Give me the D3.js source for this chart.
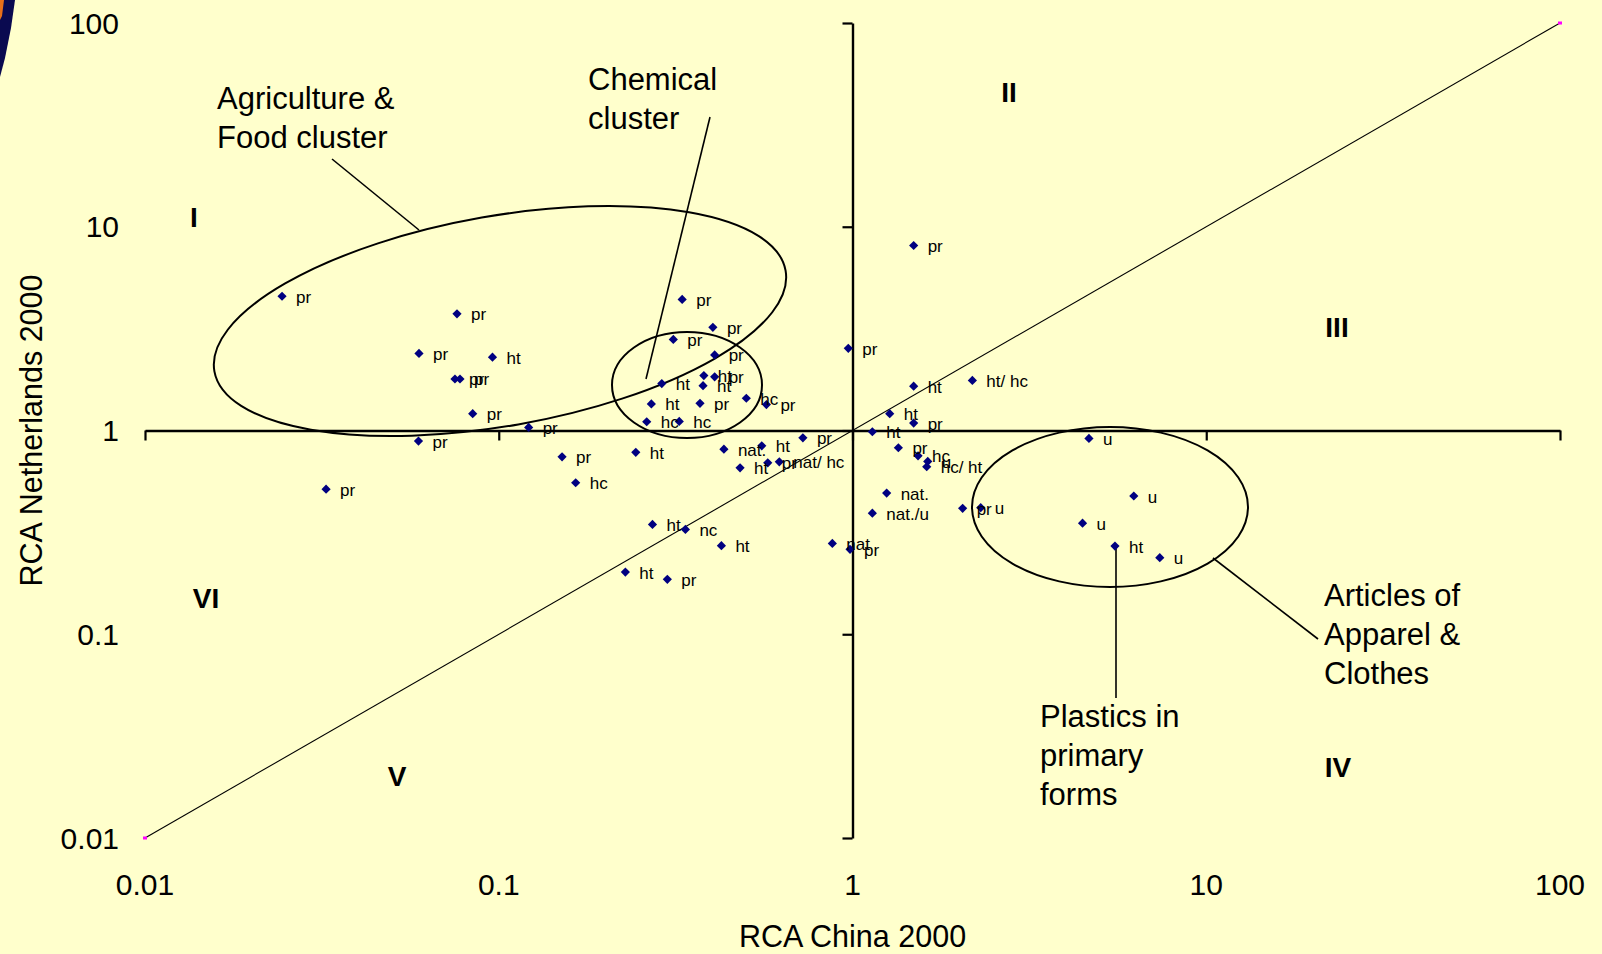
<!DOCTYPE html>
<html>
<head>
<meta charset="utf-8">
<script src="https://cdn.jsdelivr.net/npm/d3@7"></script>
<style>
  html, body { margin: 0; padding: 0; background: #FFFFCC; overflow: hidden; }
  svg { display: block; }
  text { font-family: "Liberation Sans", Arial, sans-serif; fill: #000; }
</style>
</head>
<body>
<svg id="chart" width="1602" height="954"></svg>
<script>
// ---------------- DATA ----------------
const rcaChina = [
  0.0244, 0.0762, 0.0595, 0.0960, 0.0752, 0.0777, 0.0844, 0.0593, 0.1215, 0.151,
  0.165, 0.0325, 0.330, 0.403, 0.3115, 0.4077, 0.289, 0.380, 0.4077, 0.378,
  0.270, 0.3706, 0.501, 0.571, 0.262, 0.3238, 0.973, 1.138, 0.244, 0.433,
  0.554, 0.724, 0.481, 0.576, 0.621, 0.272, 0.337, 0.426, 0.228, 0.2996,
  0.877, 0.984, 1.138, 1.489, 1.489, 2.182, 1.274, 1.489, 4.66, 1.348,
  1.532, 1.632, 1.621, 1.249, 2.048, 2.304, 6.24, 4.47, 5.52, 7.39
];
const rcaNetherlands = [
  4.56, 3.74, 2.39, 2.29, 1.79, 1.79, 1.21, 0.887, 1.035, 0.743,
  0.554, 0.515, 4.40, 3.21, 2.80, 2.35, 1.70, 1.86, 1.835, 1.66,
  1.35, 1.36, 1.44, 1.34, 1.104, 1.108, 2.53, 0.986, 0.781, 0.810,
  0.841, 0.921, 0.656, 0.694, 0.702, 0.346, 0.327, 0.272, 0.202, 0.186,
  0.279, 0.261, 0.393, 8.09, 1.65, 1.76, 1.21, 1.087, 0.914, 0.823,
  0.751, 0.705, 0.664, 0.493, 0.415, 0.418, 0.477, 0.351, 0.271, 0.2375
];
const productLabels = [
  "pr", "pr", "pr", "ht", "pr", "pr", "pr", "pr", "pr", "pr",
  "hc", "pr", "pr", "pr", "pr", "pr", "ht", "ht", "pr", "ht",
  "ht", "pr", "hc", "pr", "hc", "hc", "pr", "ht", "ht", "nat.",
  "ht", "pr", "ht", "pr", "nat/ hc", "ht", "nc", "ht", "ht", "pr",
  "nat", "pr", "nat./u", "pr", "ht", "ht/ hc", "ht", "pr", "u", "pr",
  "hc", "u", "hc/ ht", "nat.", "pr", "u", "u", "u", "ht", "u"
];
const tickValues = [0.01, 0.1, 1, 10, 100];
const tickLabels = ["0.01", "0.1", "1", "10", "100"];
const diagonal = [0.01, 100];
const quadrantLabels = ["I", "II", "III", "IV", "V", "VI"];

// ---------------- LAYOUT ----------------
const svg = d3.select("#chart");
const W = 1602, H = 954;
const x = d3.scaleLog().domain([0.01, 100]).range([145, 1560]);
const y = d3.scaleLog().domain([0.01, 100]).range([838, 23]);

svg.append("rect").attr("width", W).attr("height", H).attr("fill", "#FFFFCC");

// slide decoration top-left
svg.append("path").attr("d", "M0,0 L15,0 L11,28 L5,58 L0,77 Z").attr("fill", "#0A0A50");
svg.append("path").attr("d", "M0,0 L4,0 L2,16 L0,20 Z").attr("fill", "#E8701A");

// diagonal reference line
svg.append("line")
  .attr("x1", x(diagonal[0])).attr("y1", y(diagonal[0]))
  .attr("x2", x(diagonal[1])).attr("y2", y(diagonal[1]))
  .attr("stroke", "#000").attr("stroke-width", 1.1);
svg.selectAll("rect.endpt").data(diagonal).enter().append("rect")
  .attr("class", "endpt")
  .attr("x", d => x(d) - 2).attr("y", d => y(d) - 1.5)
  .attr("width", 4).attr("height", 3).attr("fill", "#FF00FF");

// axes crossing at (1,1)
const xAxis = d3.axisBottom(x).tickValues(tickValues).tickSize(10).tickSizeOuter(0).tickFormat("");
const yAxis = d3.axisLeft(y).tickValues(tickValues).tickSize(10).tickSizeOuter(0).tickFormat("");
const gx = svg.append("g").attr("transform", `translate(0,${y(1)})`).call(xAxis);
const gy = svg.append("g").attr("transform", `translate(${x(1)},0)`).call(yAxis);
[gx, gy].forEach(g => {
  g.select(".domain").attr("stroke", "#000").attr("stroke-width", 2.4);
  g.selectAll(".tick line").attr("stroke", "#000").attr("stroke-width", 2.2);
});

// tick labels at the chart edges
svg.selectAll("text.xt").data(tickValues).enter().append("text")
  .attr("class", "xt")
  .attr("x", d => x(d)).attr("y", 895)
  .attr("text-anchor", "middle").attr("font-size", 30)
  .text((d, i) => tickLabels[i]);
svg.selectAll("text.yt").data(tickValues).enter().append("text")
  .attr("class", "yt")
  .attr("x", 119).attr("y", d => y(d) + 10.5)
  .attr("text-anchor", "end").attr("font-size", 30)
  .text((d, i) => tickLabels[i]);

// axis titles
svg.append("text").attr("x", x(1)).attr("y", 947)
  .attr("text-anchor", "middle").attr("font-size", 30.5).text("RCA China 2000");
svg.append("text").attr("transform", `translate(42,${y(1)}) rotate(-90)`)
  .attr("text-anchor", "middle").attr("font-size", 30.5).text("RCA Netherlands 2000");

// quadrant numerals
const quadPos = [[194, 227], [1009, 102], [1337, 337], [1338, 777], [397, 786], [206, 608]];
svg.selectAll("text.quad").data(quadrantLabels).enter().append("text")
  .attr("class", "quad")
  .attr("x", (d, i) => quadPos[i][0]).attr("y", (d, i) => quadPos[i][1])
  .attr("text-anchor", "middle").attr("font-size", 28).attr("font-weight", "bold")
  .text(d => d);

// cluster ellipses and leader lines
const ann = svg.append("g").attr("fill", "none").attr("stroke", "#000");
ann.append("ellipse").attr("cx", 0).attr("cy", 0).attr("rx", 290).attr("ry", 105)
  .attr("transform", "translate(500,321) rotate(-10)").attr("stroke-width", 2);
ann.append("ellipse").attr("cx", 687).attr("cy", 385).attr("rx", 75).attr("ry", 53).attr("stroke-width", 2);
ann.append("ellipse").attr("cx", 1110).attr("cy", 507).attr("rx", 138).attr("ry", 80).attr("stroke-width", 2);
const leaders = [[332, 159, 419, 230], [710, 117, 646, 379], [1213, 558, 1318, 639], [1116, 547, 1116, 698]];
ann.selectAll("line").data(leaders).enter().append("line")
  .attr("x1", d => d[0]).attr("y1", d => d[1]).attr("x2", d => d[2]).attr("y2", d => d[3])
  .attr("stroke-width", 1.6);

// annotation texts
const notes = [
  { x: 217, y: 109, lines: ["Agriculture &", "Food cluster"] },
  { x: 588, y: 90, lines: ["Chemical", "cluster"] },
  { x: 1324, y: 606, lines: ["Articles of", "Apparel &", "Clothes"] },
  { x: 1040, y: 727, lines: ["Plastics in", "primary", "forms"] }
];
notes.forEach(n => {
  const t = svg.append("text").attr("font-size", 31);
  n.lines.forEach((l, i) => t.append("tspan").attr("x", n.x).attr("y", n.y + i * 38.8).text(l));
});

// data points
const pts = rcaChina.map((v, i) => ({ cx: v, cy: rcaNetherlands[i], label: productLabels[i] }));
const diamond = d3.symbol().type(d3.symbolDiamond2).size(54);
svg.append("g").selectAll("path").data(pts).enter().append("path")
  .attr("d", diamond)
  .attr("transform", d => `translate(${x(d.cx)},${y(d.cy)})`)
  .attr("fill", "#000080");
svg.append("g").selectAll("text").data(pts).enter().append("text")
  .attr("x", d => x(d.cx) + 14).attr("y", d => y(d.cy) + 6.5)
  .attr("font-size", 17)
  .text(d => d.label);
</script>
</body>
</html>
